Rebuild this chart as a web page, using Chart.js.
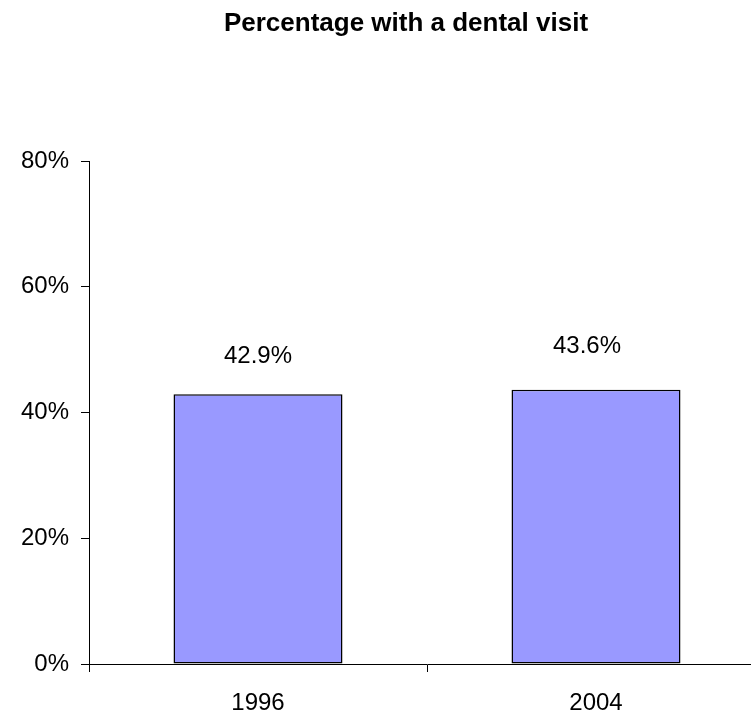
<!DOCTYPE html>
<html>
<head>
<meta charset="utf-8">
<script src="https://cdn.jsdelivr.net/npm/chart.js@4/dist/chart.umd.min.js"></script>
<style>
html,body{margin:0;padding:0;background:#fff;overflow:hidden;}
#wrap{width:812px;height:715px;}
</style>
</head>
<body>
<div id="wrap"><canvas id="c" width="812" height="715"></canvas></div>
<script>
const titleText = "Percentage with a dental visit";
const categories = ["1996", "2004"];
const percentWithVisit = [42.9, 43.6];
const valueLabels = ["42.9%", "43.6%"];
const yTickMax = 80;
const yTickStep = 20;

const FONT = "'Liberation Sans', Arial, Helvetica, sans-serif";

const titlePlugin = {
  id: 'customTitle',
  afterDraw(chart, args, opts) {
    const ctx = chart.ctx;
    ctx.save();
    ctx.font = "bold 26px " + FONT;
    ctx.fillStyle = '#000';
    ctx.textAlign = 'center';
    ctx.textBaseline = 'middle';
    ctx.fillText(opts.text, opts.x, opts.y);
    ctx.restore();
  }
};

const valueLabelPlugin = {
  id: 'valueLabels',
  afterDatasetsDraw(chart, args, opts) {
    const ctx = chart.ctx;
    const meta = chart.getDatasetMeta(0);
    ctx.save();
    ctx.font = "24px " + FONT;
    ctx.fillStyle = '#000';
    ctx.textAlign = 'center';
    ctx.textBaseline = 'middle';
    meta.data.forEach((bar, i) => {
      const off = opts.offsets[i] || {dx: 0, dy: -40};
      ctx.fillText(opts.labels[i], bar.x + off.dx, bar.y + off.dy);
    });
    ctx.restore();
  }
};

new Chart(document.getElementById('c'), {
  type: 'bar',
  data: {
    labels: categories,
    datasets: [{
      data: percentWithVisit,
      backgroundColor: '#9999FF',
      borderColor: '#000000',
      borderWidth: 1.5,
      borderSkipped: false,
      barPercentage: 0.5,
      categoryPercentage: 1.0
    }]
  },
  options: {
    responsive: false,
    animation: false,
    layout: { padding: { top: 161, right: 47, left: 0, bottom: 0 } },
    plugins: {
      legend: { display: false },
      title: { display: false },
      tooltip: { enabled: false },
      customTitle: { text: titleText, x: 406, y: 24 },
      valueLabels: {
        labels: valueLabels,
        offsets: [{dx: 0, dy: -38}, {dx: -9, dy: -43}]
      }
    },
    scales: {
      x: {
        grid: { display: true, drawOnChartArea: false, drawTicks: true, tickLength: 8, color: '#000', offset: true },
        border: { display: true, color: '#000', width: 1 },
        ticks: { color: '#000', font: { family: FONT, size: 24 }, padding: 17, maxRotation: 0 },
        afterFit(scale) { scale.height = 51; }
      },
      y: {
        min: 0,
        max: yTickMax,
        grid: { display: true, drawOnChartArea: false, drawTicks: true, tickLength: 8, color: '#000' },
        border: { display: true, color: '#000', width: 1 },
        ticks: {
          stepSize: yTickStep,
          color: '#000',
          font: { family: FONT, size: 24 },
          padding: 12,
          callback: (v) => v + '%'
        },
        afterFit(scale) { scale.width = 89; }
      }
    }
  },
  plugins: [titlePlugin, valueLabelPlugin]
});
</script>
</body>
</html>
